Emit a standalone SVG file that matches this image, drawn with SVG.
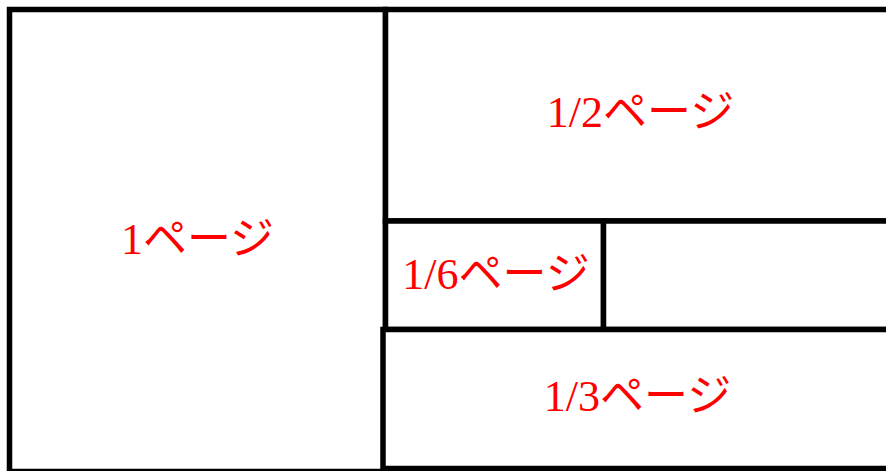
<svg xmlns="http://www.w3.org/2000/svg" width="886" height="471" viewBox="0 0 886 471">
<style>
.box{fill:#fff;stroke:#000;stroke-width:5.5}
.lbl{font-family:"Liberation Serif","Noto Sans CJK JP",serif;font-size:44px;fill:#ff0000;text-anchor:middle}
</style>
<rect x="0" y="0" width="886" height="471" fill="#fff"/>
<g id="page1">
<rect class="box" x="9.5" y="9.5" width="376" height="462"/>
<text class="lbl" x="197.5" y="254">1ページ</text>
</g>
<g id="half">
<rect class="box" x="385.5" y="9.5" width="520" height="211.5"/>
<text class="lbl" x="640.5" y="127">1/2ページ</text>
</g>
<g id="sixth">
<rect class="box" x="385.5" y="221" width="218" height="108.5"/>
<text class="lbl" x="496" y="289">1/6ページ</text>
</g>
<g id="sixth-empty">
<rect class="box" x="603.5" y="221" width="300" height="108.5"/>
</g>
<g id="third">
<rect class="box" x="383" y="329.5" width="520" height="139"/>
<text class="lbl" x="637.5" y="411">1/3ページ</text>
</g>
<g id="connectors"></g>
</svg>
